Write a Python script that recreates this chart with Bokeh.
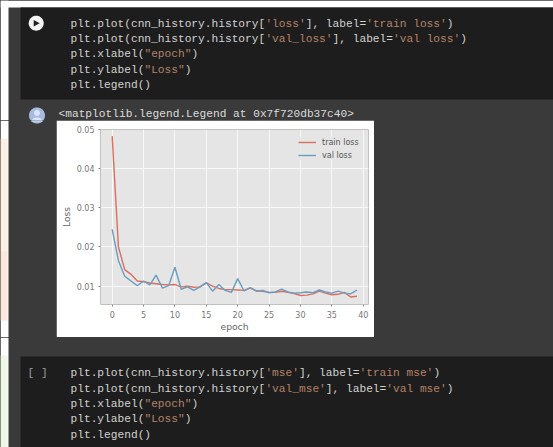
import math
import re
from bokeh.core.properties import value
from bokeh.embed import file_html
from bokeh.layouts import column, row
from bokeh.resources import INLINE
from bokeh.plotting import figure
from bokeh.models import Legend, LegendItem, Range1d, FixedTicker

# ---- chart values
epochs = list(range(40))
train_loss = [.0483, .0200, .0142, .0130, .0113, .0111, .0108, .0106, .0104, .0103,
              .0104, .0098, .0100, .0097, .0098, .0108, .0100, .0094, .0091, .0091,
              .0090, .0089, .0095, .0088, .0087, .0084, .0084, .0087, .0084, .0081,
              .0076, .0077, .0080, .0087, .0082, .0078, .0079, .0084, .0072, .0074]
val_loss = [.0245, .0165, .0125, .0113, .0101, .0113, .0103, .0128, .0095, .0101,
            .0148, .0092, .0098, .0089, .0098, .0109, .0087, .0104, .0089, .0084,
            .0119, .0088, .0096, .0087, .0089, .0083, .0085, .0092, .0085, .0082,
            .0083, .0085, .0083, .0090, .0085, .0082, .0087, .0082, .0080, .0090]
x_ticks = [0, 5, 10, 15, 20, 25, 30, 35, 40]
y_ticks = [0.01, 0.02, 0.03, 0.04, 0.05]

code_top = ["plt.plot(cnn_history.history['loss'], label='train loss')",
            "plt.plot(cnn_history.history['val_loss'], label='val loss')",
            'plt.xlabel("epoch")', 'plt.ylabel("Loss")', "plt.legend()"]
code_bottom = ["plt.plot(cnn_history.history['mse'], label='train mse')",
               "plt.plot(cnn_history.history['val_mse'], label='val mse')",
               'plt.xlabel("epoch")', 'plt.ylabel("Loss")', "plt.legend()"]
output_line = "<matplotlib.legend.Legend at 0x7f720db37c40>"

W, H = 553, 447
IL, IR, IT, IB = 56, 374, 120, 337   # white picture of the notebook output
FL, FR, FT, FB = 100, 368, 129, 304  # plot frame
BG, CELL = "#3a3a3a", "#1d1d1d"
CW = 6.72


def page_part(x0, x1, y0, y1):
    """A strip of the notebook page: its data coordinates are the page's pixels."""
    f = figure(width=x1 - x0, height=y1 - y0, output_backend="svg", toolbar_location=None,
               x_range=Range1d(x0, x1), y_range=Range1d(y1, y0),
               x_axis_type=None, y_axis_type=None, frame_align=False,
               min_border_left=0, min_border_right=0, min_border_top=0, min_border_bottom=0)
    f.grid.visible = False
    f.outline_line_color = None
    f.background_fill_color = BG
    f.border_fill_color = BG
    return f


def rect(f, l, r, t, b, color):
    f.quad(left=[l], right=[r], top=[t], bottom=[b], fill_color=color, line_color=None)


def disc(f, cx, cy, rx, ry, color, a0=0.0, a1=2 * math.pi):
    ang = [a0 + (a1 - a0) * i / 40 for i in range(41)]
    f.patch([cx + rx * math.cos(a) for a in ang], [cy + ry * math.sin(a) for a in ang],
            fill_color=color, line_color=None)


def put(f, x, y, s, color):
    f.text([x], [y], text=[s], text_color=color, text_font=value("Liberation Mono"),
           text_font_size="11.2px", text_baseline="middle", text_align="left")


def code(f, x, y, line):
    pos = 0
    for part in re.split(r"""('[^']*'|"[^"]*")""", line):
        if part:
            put(f, x + pos * CW, y, part, "#b48268" if part[0] in "'\"" else "#d2d2d2")
            pos += len(part)


def avatar(f):
    disc(f, 36.5, 115, 8, 8, "#a7badf")
    disc(f, 36.5, 112.5, 3, 3, "#dbe4f5")
    disc(f, 36.5, 121, 5.5, 4, "#dbe4f5", math.pi, 2 * math.pi)


# ---- top of the page
top = page_part(0, W, 0, IT)
rect(top, 0, W, 0, 7, "#ffffff")
rect(top, 0, 8, 0, IT, "#ffffff")
rect(top, 20, W, 7, 99, CELL)
for y, line in zip([23.3, 38.3, 53.5, 69, 84.7], code_top):
    code(top, 70, y, line)
put(top, 58, 113, output_line, "#dcdcdc")
disc(top, 35.7, 22.7, 7.5, 7.5, "#f4f4f4")
top.patch([33.2, 33.2, 39.2], [19.4, 26, 22.7], fill_color="#222222", line_color=None)
avatar(top)

# ---- strips left and right of the chart
left = page_part(0, IL, IT, IB)
rect(left, 0, 8, IT, IB, "#ffffff")
rect(left, 0, 7, 138, 250, "#fdefe2")
rect(left, 0, 7, 250, 320, "#fde6dc")
avatar(left)
right = page_part(IR, W, IT, IB)

# ---- bottom of the page
bottom = page_part(0, W, IB, H)
rect(bottom, 0, 8, IB, H, "#ffffff")
rect(bottom, 0, 7, 355, H, "#eff8e4")
rect(bottom, 20, W, 356, H, CELL)
for y, line in zip([372, 388, 403, 418, 434], code_bottom):
    code(bottom, 70, y, line)
put(bottom, 27, 372, "[ ]", "#9a9a9a")

# ---- the chart
p = figure(width=IR - IL, height=IB - IT, output_backend="svg", toolbar_location=None,
           x_range=Range1d(-1.86, 40.84), y_range=Range1d(0.0053, 0.0500), frame_align=False,
           min_border_left=FL - IL, min_border_right=IR - FR,
           min_border_top=FT - IT, min_border_bottom=IB - FB)
p.border_fill_color = "#ffffff"
p.background_fill_color = "#e5e5e5"
p.outline_line_color = None

for ax, ticks in ((p.xaxis[0], x_ticks), (p.yaxis[0], y_ticks)):
    ax.ticker = FixedTicker(ticks=ticks)
    ax.axis_line_color = None
    ax.major_tick_line_color = "#888888"
    ax.major_tick_out = 2
    ax.major_tick_in = 0
    ax.minor_tick_line_color = None
    ax.major_label_text_color = "#777777"
    ax.major_label_text_font = "DejaVu Sans"
    ax.major_label_text_font_size = "8px"
    ax.axis_label_text_color = "#666666"
    ax.axis_label_text_font = "DejaVu Sans"
    ax.axis_label_text_font_size = "9.2px"
    ax.axis_label_text_font_style = "normal"
p.xaxis.axis_label = "epoch"
p.yaxis.axis_label = "Loss"
p.xaxis.major_label_standoff = 4
p.yaxis.major_label_standoff = 4
p.xaxis.axis_label_standoff = 0
p.yaxis.axis_label_standoff = 2

for g in (p.xgrid[0], p.ygrid[0]):
    g.grid_line_color = "#f8f8f8"
    g.grid_line_width = 1

r1 = p.line(epochs, train_loss, line_color="#d9705f", line_width=1.4)
r2 = p.line(epochs, val_loss, line_color="#6a9dc0", line_width=1.4)

legend = Legend(items=[LegendItem(label="train loss", renderers=[r1]),
                       LegendItem(label="val loss", renderers=[r2])],
                location=(198, 144), background_fill_color="#e5e5e5", background_fill_alpha=0.8,
                border_line_color=None, label_text_font="DejaVu Sans", label_text_font_size="8px",
                label_text_color="#555555", glyph_width=18, glyph_height=10, label_height=10,
                label_standoff=6, spacing=3, padding=3, margin=0)
p.add_layout(legend)

middle = row(left, p, right, spacing=0, styles={"background-color": BG})
page = column(top, middle, bottom, spacing=0, styles={"background-color": BG})
open("out.html", "w").write(file_html(page, INLINE))
